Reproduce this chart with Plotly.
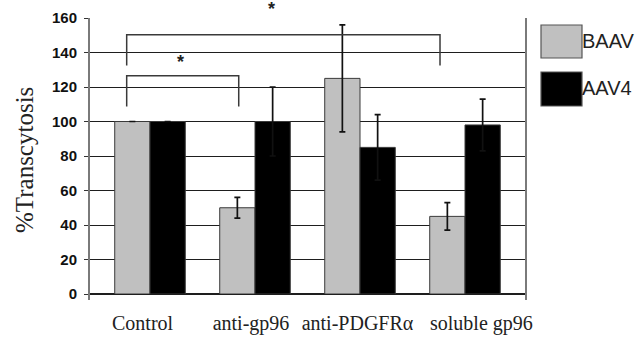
import plotly.graph_objects as go

# ---- data ----
categories = ["Control", "anti-gp96", "anti-PDGFR\u03b1", "soluble gp96"]
series_names = ["BAAV", "AAV4"]
baav_values = [100, 50, 125, 45]
baav_errors = [None, 6, 31, 8]
aav4_values = [100, 100, 85, 98]
aav4_errors = [None, 20, 19, 15]
y_ticks = [0, 20, 40, 60, 80, 100, 120, 140, 160]

# ---- layout helpers (positions / styles) ----
W, H = 636, 339
L, R, T, B = 89, 110, 18, 45
PW, PH = W - L - R, H - T - B
XR = [-0.581, 3.581]
label_offsets = [-0.071, -0.038, -0.024, 0.156]
colors = ["#c0c0c0", "#000000"]


def px_x(p):
    return (p - L) / PW


def px_y(p):
    return (H - B - p) / PH


x_idx = list(range(len(categories)))

fig = go.Figure()
for name, vals, errs, col in [
    (series_names[0], baav_values, baav_errors, colors[0]),
    (series_names[1], aav4_values, aav4_errors, colors[1]),
]:
    fig.add_trace(go.Bar(
        x=x_idx, y=vals, name=name,
        marker=dict(color=col, line=dict(color="#3a3a3a", width=1)),
        error_y=dict(type="data", array=errs, visible=True,
                     color="#111111", thickness=1.7, width=3),
        showlegend=False,
    ))

shapes = []
# left/right vertical borders extending slightly below zero
for xp in (0, 1):
    shapes.append(dict(type="line", xref="paper", yref="paper",
                       x0=xp, x1=xp, y0=px_y(300), y1=1,
                       line=dict(color="#7a7a7a", width=2)))

# significance brackets
brackets = [(-0.222, 0.845, 126.5, 108.7), (-0.222, 2.762, 150.3, 132.5)]
for x0, x1, ytop, yend in brackets:
    shapes.append(dict(type="path", xref="x", yref="y",
                       path=f"M {x0},{yend} L {x0},{ytop} L {x1},{ytop} L {x1},{yend}",
                       line=dict(color="#3a3a3a", width=1.5)))

# legend swatches
leg_boxes = [(541, 582, 25, 58), (541, 582, 72, 106)]
for (x0, x1, y0, y1), col in zip(leg_boxes, colors):
    shapes.append(dict(type="rect", xref="paper", yref="paper",
                       x0=px_x(x0), x1=px_x(x1), y0=px_y(y1), y1=px_y(y0),
                       fillcolor=col, line=dict(color="#555555", width=1.2)))

annotations = []
for name, yc in zip(series_names, [41, 88]):
    annotations.append(dict(text=name, xref="paper", yref="paper",
                            x=px_x(581), y=px_y(yc), xanchor="left", yanchor="middle",
                            showarrow=False, borderpad=0,
                            font=dict(family="Liberation Sans", size=20, color="#222222")))

# stars (pixel-placed in paper coords)
for xs, ys in [(180, 60), (271, 7)]:
    annotations.append(dict(text="*", xref="paper", yref="paper",
                            x=px_x(xs), y=px_y(ys),
                            xanchor="center", yanchor="middle", yshift=-2,
                            showarrow=False,
                            font=dict(family="Liberation Sans", size=18, color="#222222",
                                      weight="bold")))

# y axis title
annotations.append(dict(text="%Transcytosis", xref="paper", yref="paper",
                        x=px_x(24), y=px_y(160), xanchor="center", yanchor="middle",
                        textangle=-90, showarrow=False,
                        font=dict(family="Liberation Serif", size=25, color="#222222")))

fig.update_layout(
    width=W, height=H,
    margin=dict(l=L, r=R, t=T, b=B, pad=0, autoexpand=False),
    paper_bgcolor="white", plot_bgcolor="white",
    barmode="group", bargap=0.328, bargroupgap=0,
    shapes=shapes, annotations=annotations,
    xaxis=dict(range=XR, tickvals=[i + o for i, o in zip(x_idx, label_offsets)],
               ticktext=categories, ticks="", showgrid=False, zeroline=False,
               showline=False, ticklabelstandoff=15, automargin=False,
               tickfont=dict(family="Liberation Serif", size=20, color="#222222")),
    yaxis=dict(range=[0, 160], tickvals=y_ticks, showgrid=True,
               gridcolor="#1e1e1e", gridwidth=1.4, automargin=False,
               zeroline=True, zerolinecolor="#1e1e1e", zerolinewidth=1.6,
               ticks="outside", ticklen=4, tickcolor="#333333", tickwidth=1.3,
               showline=False, ticklabelstandoff=4,
               tickfont=dict(family="Liberation Sans", size=15, color="#111111",
                             weight="bold")),
)

fig.write_html("out.html", config={"displayModeBar": False},
               post_script="document.body.style.margin='0';")
